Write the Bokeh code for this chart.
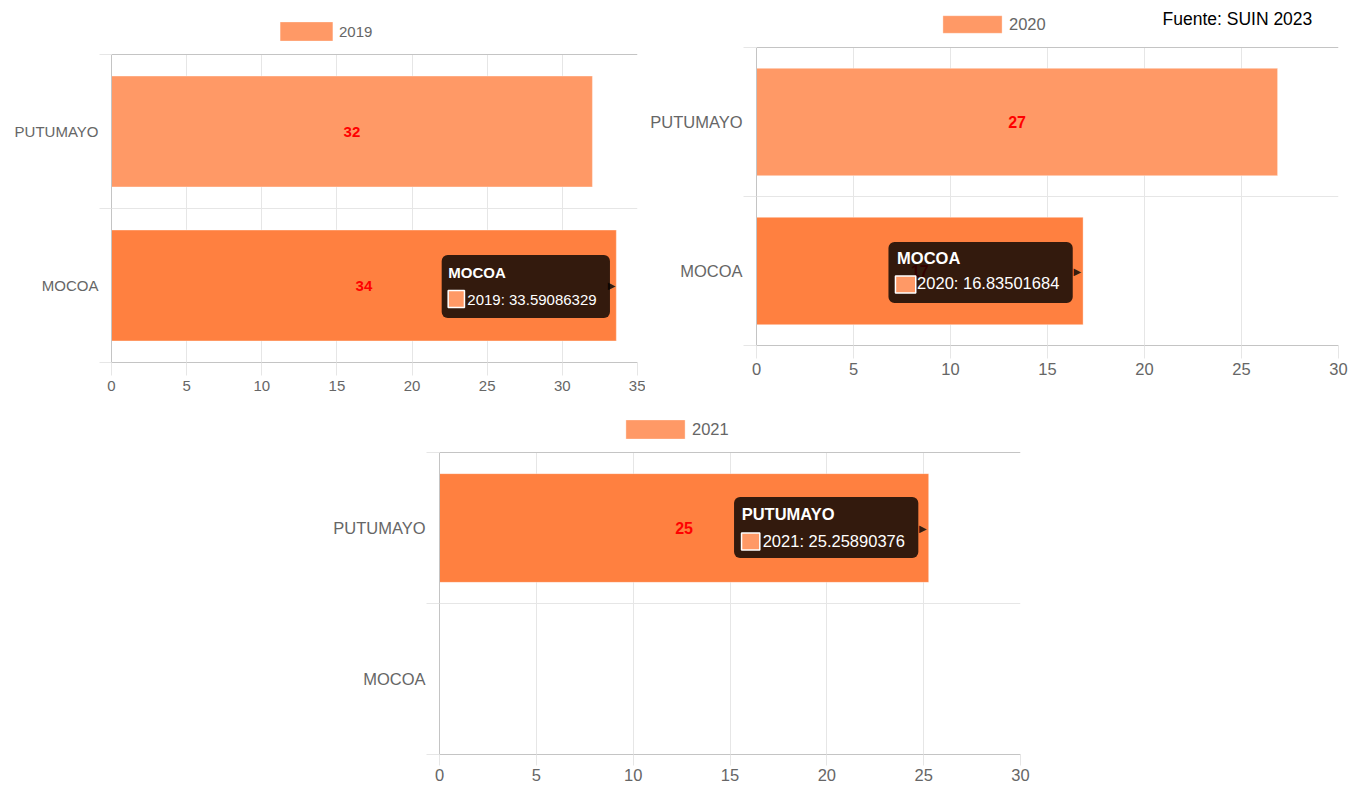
from bokeh.plotting import figure
from bokeh.models import (Range1d, FixedTicker, Grid, Legend, LegendItem, Label,
                          ColumnDataSource, Spacer)
from bokeh.layouts import row, column
from bokeh.embed import file_html
from bokeh.resources import INLINE
from bokeh.core.properties import value

# ---------------- data ----------------
categories = ["MOCOA", "PUTUMAYO"]          # bottom -> top
years = ["2019", "2020", "2021"]
values_2019 = [33.59086329, 32.0]
values_2020 = [16.83501684, 26.86]
values_2021 = [float("nan"), 25.25890376]
hovered = ["MOCOA", "MOCOA", "PUTUMAYO"]
x_max = [35, 30, 30]
x_step = 5
source_note = "Fuente: SUIN 2023"

# ---------------- style / layout ----------------
FONT = "Liberation Sans"
LIGHT = "#ff9966"
DARK = "#ff8040"
GRID = "#e6e6e6"
AXIS = "#c4c4c4"
TXT = "#666666"

geoms = [
    dict(w=645, h=398, mbl=111, mbr=8, mbb=36, top=54, fs="15px", vfs="15px",
         ytick=12, xtick=13, xstand=5, leg=(162, 319), glyph=(66, 24),
         tip=dict(box=(-175, -6, -30, 32), caret=-1, title=(-168, -13),
                  sw=(-168, -152, 5, 22), body=(-149, 14), fs="15px")),
    dict(w=719, h=381, mbl=111, mbr=26, mbb=36, top=47, fs="16.5px", vfs="16px",
         ytick=13, xtick=13, xstand=4, leg=(179, 310), glyph=(74, 22),
         tip=dict(box=(-195, -10, -28, 31), caret=-2, title=(-186, -13),
                  sw=(-187, -168, 5, 22), body=(-166, 12), fs="16.5px")),
    dict(w=720, h=389, mbl=119, mbr=20, mbb=33, top=54, fs="16.5px", vfs="16px",
         ytick=13, xtick=11, xstand=3, leg=(179, 313), glyph=(74, 24),
         tip=dict(box=(-194, -11, -30, 29), caret=-2, title=(-187, -14),
                  sw=(-187, -169, 5, 22), body=(-166, 13), fs="16.5px")),
]

HAS_CROSS = "cross_bounds" in Grid.properties()


def add_tooltip(p, year, vals, cat, t):
    i = categories.index(cat)
    ax, ay = vals[i], i + 0.5
    l, r, tp, b = t["box"]
    p.add_layout(Label(x=ax, y=ay, x_offset=(l + r) / 2, y_offset=-(tp + b) / 2,
                       text=" ", text_font_size="1px", text_align="center",
                       text_baseline="middle", background_fill_color="black",
                       background_fill_alpha=0.8,
                       padding=(int(round((r - l) / 2)), int(round((b - tp) / 2))),
                       border_radius=6))
    p.add_layout(Label(x=ax, y=ay, x_offset=t["caret"], y_offset=0, text="\u25B6",
                       text_font_size="10px", text_color="black", text_alpha=0.8,
                       text_align="right", text_baseline="middle",
                       text_font="DejaVu Sans"))
    p.add_layout(Label(x=ax, y=ay, x_offset=t["title"][0], y_offset=-t["title"][1],
                       text=cat, text_font=FONT, text_font_style="bold",
                       text_font_size=t["fs"], text_color="white",
                       text_align="left", text_baseline="middle"))
    sl, sr, st, sb = t["sw"]
    p.add_layout(Label(x=ax, y=ay, x_offset=(sl + sr) / 2, y_offset=-(st + sb) / 2,
                       text=" ", text_font_size="1px", text_align="center",
                       text_baseline="middle", background_fill_color=LIGHT,
                       border_line_color="white", border_line_width=1.5,
                       padding=(int(round((sr - sl) / 2)), int(round((sb - st) / 2)))))
    p.add_layout(Label(x=ax, y=ay, x_offset=t["body"][0], y_offset=-t["body"][1],
                       text=f"{year}: {ax:.8f}", text_font=FONT,
                       text_font_size=t["fs"], text_color="white",
                       text_align="left", text_baseline="middle"))


def make_chart(year, vals, hover_cat, xmax, g):
    n = len(categories)
    pos = [k + 0.5 for k in range(n)]
    colors = [DARK if c == hover_cat else LIGHT for c in categories]
    src = ColumnDataSource(dict(y=pos, v=vals, color=colors))

    # frame spans from figure top to the x axis; the band area starts g["top"] px lower
    frame_h = g["h"] - g["mbb"]
    y_end = n * frame_h / (frame_h - g["top"])

    p = figure(width=g["w"], height=g["h"], x_range=Range1d(0, xmax),
               y_range=Range1d(0, y_end), output_backend="svg", toolbar_location=None,
               min_border_left=g["mbl"], min_border_right=g["mbr"],
               min_border_top=0, min_border_bottom=g["mbb"])
    p.outline_line_color = None
    p.background_fill_color = "white"
    p.border_fill_color = "white"

    xt = list(range(0, xmax + 1, x_step))
    p.xaxis.ticker = FixedTicker(ticks=xt)
    p.xgrid.ticker = FixedTicker(ticks=xt)
    if HAS_CROSS:
        p.xgrid.cross_bounds = (0, n)
        p.xgrid.grid_line_color = GRID
    else:
        p.xgrid.grid_line_color = None
        p.segment(x0=xt, x1=xt, y0=[0] * len(xt), y1=[n] * len(xt), line_color=GRID)

    r = p.hbar(y="y", left=0, right="v", height=0.72, fill_color="color",
               line_color="white", line_alpha=0.35, line_width=1, source=src)

    shown = [k for k in range(n) if vals[k] == vals[k]]
    lab = ColumnDataSource(dict(x=[vals[k] / 2 for k in shown], y=[pos[k] for k in shown],
                                t=[str(int(round(vals[k]))) for k in shown]))
    p.text(x="x", y="y", text="t", source=lab, text_color="#ff0000",
           text_font=value(FONT), text_font_style="bold", text_font_size=g["vfs"],
           text_align="center", text_baseline="middle")

    # x axis
    p.xaxis.axis_line_color = AXIS
    p.xaxis.major_tick_line_color = GRID
    p.xaxis.major_tick_out = g["xtick"]
    p.xaxis.major_tick_in = 0
    p.xaxis.minor_tick_line_color = None
    p.xaxis.major_label_standoff = g["xstand"]
    p.xaxis.major_label_text_font = FONT
    p.xaxis.major_label_text_font_size = g["fs"]
    p.xaxis.major_label_text_color = TXT

    # y axis (category bands)
    p.yaxis.ticker = FixedTicker(ticks=pos, minor_ticks=list(range(n + 1)))
    p.yaxis.bounds = (0, n)
    p.yaxis.major_label_overrides = {pos[k]: categories[k] for k in range(n)}
    p.yaxis.axis_line_color = AXIS
    p.yaxis.major_tick_line_color = None
    p.yaxis.major_tick_out = g["ytick"]
    p.yaxis.major_tick_in = 0
    p.yaxis.minor_tick_line_color = GRID
    p.yaxis.minor_tick_out = g["ytick"]
    p.yaxis.minor_tick_in = 0
    p.yaxis.major_label_standoff = 1
    p.yaxis.major_label_text_font = FONT
    p.yaxis.major_label_text_font_size = g["fs"]
    p.yaxis.major_label_text_color = TXT
    p.ygrid.ticker = FixedTicker(ticks=list(range(n)))
    p.ygrid.grid_line_color = GRID
    p.add_layout(Grid(dimension=1, ticker=FixedTicker(ticks=[n]), grid_line_color=AXIS))

    light_idx = next(k for k in range(n) if categories[k] != hover_cat)
    legend = Legend(items=[LegendItem(label=year, renderers=[r], index=light_idx)],
                    location=g["leg"], orientation="horizontal",
                    glyph_width=g["glyph"][0], glyph_height=g["glyph"][1],
                    label_height=g["glyph"][1], label_standoff=0, padding=0, margin=0,
                    spacing=0, border_line_color=None, background_fill_alpha=0,
                    label_text_font=FONT, label_text_font_size=g["fs"],
                    label_text_color=TXT)
    p.add_layout(legend)

    add_tooltip(p, year, vals, hover_cat, g["tip"])
    return p


all_vals = [values_2019, values_2020, values_2021]
figs = [make_chart(years[k], all_vals[k], hovered[k], x_max[k], geoms[k]) for k in range(3)]

figs[1].add_layout(Label(x=406, y=327, x_units="screen", y_units="screen",
                         text=source_note, text_font=FONT,
                         text_font_size="17.5px", text_color="black",
                         text_align="left", text_baseline="middle"))

layout = column(row(figs[0], figs[1]), row(Spacer(width=320, height=389), figs[2]))

open("out.html", "w").write(file_html(layout, INLINE))
